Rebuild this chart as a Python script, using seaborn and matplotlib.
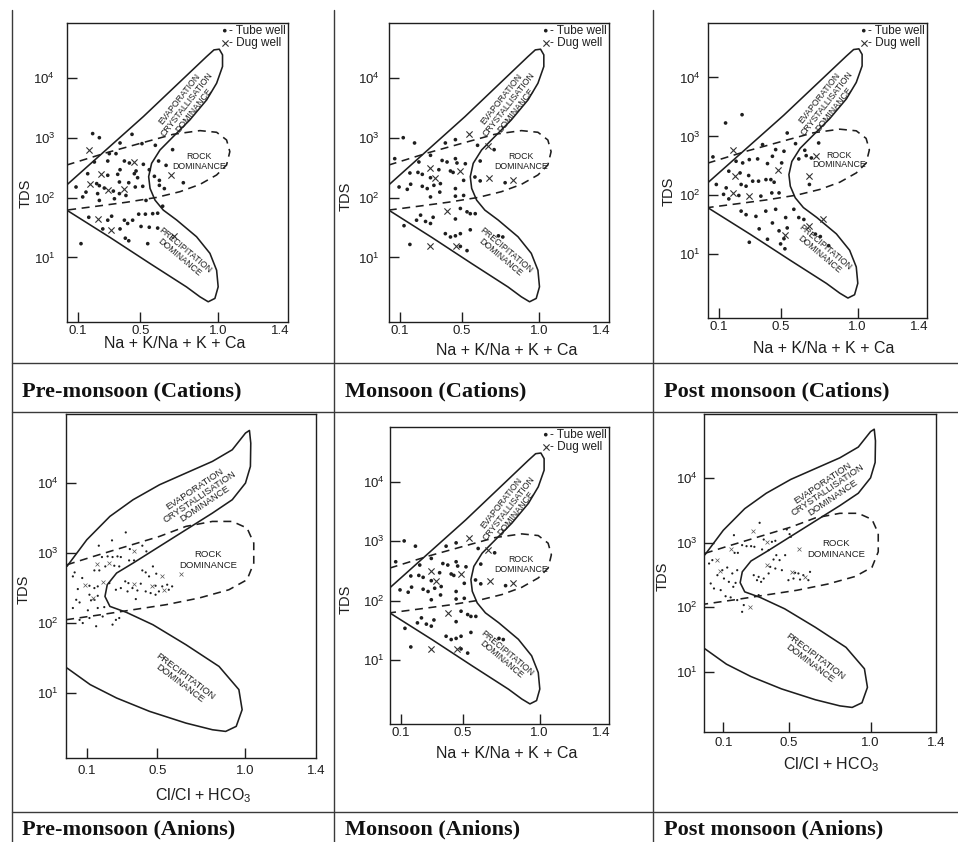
import matplotlib
matplotlib.use("Agg")
import matplotlib.pyplot as plt
from matplotlib.lines import Line2D
from matplotlib.ticker import NullLocator
import seaborn as sns

# Gibbs boundary curves (x ratio, TDS mg/L)
cat_solid_x = [0.027, 0.306, 0.563, 0.798, 0.884, 0.937, 0.980, 1.001, 0.991, 0.948,
               0.862, 0.734, 0.648, 0.595, 0.563, 0.554, 0.573, 0.627, 0.712, 0.819,
               0.927, 0.991, 1.029, 1.029, 1.008, 0.974, 0.927, 0.520, 0.027]
cat_solid_tds = [62, 21.6, 7.9, 3.2, 2.19, 1.81, 2.06, 3.22, 6.1, 11.7,
                 22.2, 42.3, 62, 91, 143, 225, 376, 629, 1052, 2004,
                 4335, 8240, 15700, 24600, 30600, 29800, 23100, 2280, 163]
cat_dash_x = [0.027, 0.284, 0.541, 0.712, 0.884, 0.991, 1.055, 1.076, 1.055, 0.991,
              0.884, 0.755, 0.605, 0.413, 0.220, 0.027]
cat_dash_tds = [352, 567, 869, 1151, 1327, 1245, 925, 590, 352, 240,
                167, 126, 101, 84, 72, 62]

an_solid_x = [-0.0125, 0.100, 0.231, 0.3625, 0.5125, 0.6625, 0.8125, 0.925, 1.000, 1.0225,
              1.030, 1.028, 1.000, 0.925, 0.8125, 0.6625, 0.5125, 0.3625, 0.269, 0.216,
              0.203, 0.231, 0.325, 0.475, 0.6625, 0.850, 0.9625, 0.981, 0.9475, 0.8875,
              0.8125, 0.6625, 0.456, 0.269, 0.119, -0.0125]
an_solid_tds = [646, 1549, 3342, 5781, 9462, 13900, 20400, 29900, 51800, 56500,
                37200, 17300, 10000, 5781, 3724, 2153, 1245, 719, 518, 353,
                240, 173, 142, 94.6, 49.0, 24.0, 11.2, 5.78, 3.34, 2.83,
                2.99, 3.72, 5.47, 8.49, 13.2, 22.8]
an_dash_x = [-0.0125, 0.1375, 0.325, 0.5125, 0.6625, 0.8125, 0.925, 1.009, 1.047, 1.047,
             1.009, 0.906, 0.7375, 0.55, 0.3625, 0.175, -0.0125]
an_dash_tds = [681, 895, 1245, 1730, 2404, 2831, 2831, 2275, 1390, 719,
               416, 299, 228, 183, 155, 131, 112]

# Pre-monsoon (cations)
pre_cat_tube_x = [0.194, 0.237, 0.447, 0.370, 0.511, 0.597, 0.708, 0.301, 0.344,
                  0.205, 0.291, 0.398, 0.430, 0.520, 0.618, 0.666,
                  0.370, 0.473, 0.558, 0.591, 0.623, 0.777,
                  0.162, 0.291, 0.355, 0.462, 0.483, 0.426, 0.366, 0.220,
                  0.087, 0.151, 0.237, 0.269, 0.327, 0.226, 0.130,
                  0.468, 0.516, 0.366, 0.408, 0.237, 0.334, 0.537,
                  0.623, 0.655, 0.644,
                  0.169, 0.291, 0.316, 0.398, 0.451, 0.490, 0.533, 0.580, 0.612,
                  0.259, 0.370, 0.419, 0.505, 0.558, 0.612,
                  0.404, 0.426, 0.548, 0.119]
pre_cat_tube_tds = [1183, 1010, 1150, 824, 803, 753, 637, 546, 546,
                    396, 411, 411, 381, 362, 411, 348,
                    294, 280, 294, 228, 195, 178,
                    252, 237, 246, 252, 216, 178, 183, 172,
                    151, 124, 159, 145, 129, 117, 103,
                    151, 155, 117, 109, 90, 96, 90,
                    161, 142, 72,
                    47, 42, 49, 42, 42, 53, 53, 54, 55,
                    30, 30, 37, 33, 32, 31,
                    21, 19, 17, 17]
pre_cat_dug_x = [0.169, 0.460, 0.698, 0.248, 0.177, 0.291, 0.398, 0.231, 0.312, 0.715]
pre_cat_dug_tds = [637, 391, 243, 252, 172, 136, 138, 44, 29, 23]

# Monsoon (cations) - the same diagram is shown again in the anion row
mon_cat_tube_x = [0.121, 0.194, 0.393, 0.458, 0.601, 0.708,
                  0.066, 0.222, 0.297, 0.372, 0.404, 0.458, 0.522, 0.468, 0.618,
                  0.164, 0.216, 0.244, 0.351, 0.297, 0.443, 0.426, 0.511, 0.584, 0.618, 0.779,
                  0.094, 0.147, 0.169, 0.244, 0.276, 0.357, 0.319, 0.458, 0.458, 0.511, 0.361, 0.297,
                  0.490, 0.533, 0.554, 0.586, 0.233, 0.207, 0.314, 0.458, 0.265, 0.297, 0.126,
                  0.393, 0.426, 0.458, 0.490, 0.554, 0.736, 0.764, 0.164, 0.490, 0.533]
mon_cat_tube_tds = [1010, 824, 824, 937, 753, 637,
                    450, 396, 512, 420, 396, 450, 370, 381, 411,
                    259, 265, 246, 294, 216, 265, 280, 195, 222, 191, 178,
                    151, 138, 168, 155, 142, 124, 161, 142, 106, 109, 172, 103,
                    66, 58, 54, 54, 51, 42, 47, 44, 40, 37, 34,
                    25, 22, 23, 25, 29, 23, 22, 16.5, 15.3, 13]
mon_cat_dug_x = [0.543, 0.668, 0.297, 0.329, 0.490, 0.678, 0.828, 0.404, 0.293, 0.464]
mon_cat_dug_tds = [1150, 724, 318, 216, 280, 216, 195, 61, 15.3, 15.3]

# Post monsoon (cations)
post_cat_tube_x = [0.250, 0.143, 0.061, 0.543, 0.383, 0.468, 0.522, 0.597, 0.657, 0.747, 0.618, 0.666, 0.700,
                   0.211, 0.254, 0.297, 0.351, 0.415, 0.447, 0.507,
                   0.164, 0.237, 0.293, 0.319, 0.357, 0.405, 0.437, 0.458, 0.687,
                   0.083, 0.147, 0.244, 0.276, 0.229, 0.164, 0.130, 0.372, 0.443, 0.490,
                   0.244, 0.276, 0.340, 0.404, 0.468, 0.533, 0.586, 0.618, 0.651,
                   0.361, 0.447, 0.490, 0.543, 0.726, 0.758, 0.812, 0.415, 0.500, 0.528, 0.297, 0.522]
post_cat_tube_tds = [2335, 1690, 449, 1143, 726, 598, 560, 753, 582, 774, 415, 472, 431,
                     379, 355, 404, 415, 346, 460, 355,
                     257, 240, 217, 174, 174, 185, 185, 167, 153,
                     153, 134, 153, 143, 99.5, 87, 104, 97, 110, 110,
                     54, 47, 44, 54, 58, 42, 58, 42, 39,
                     27, 34, 25, 28, 22, 20, 14, 18, 15, 12.4, 16, 18.4]
post_cat_dug_x = [0.190, 0.486, 0.730, 0.201, 0.683, 0.190, 0.293, 0.773, 0.683, 0.528]
post_cat_dug_tds = [582, 274, 460, 211, 211, 108, 97, 39, 30, 21]

# Pre-monsoon (anions)
pre_an_tube_x = [0.321, 0.243, 0.168, 0.415, 0.438, 0.344, 0.218, 0.246, 0.274, 0.293, 0.186, 0.340, 0.368,
                 0.256, 0.284, 0.205, 0.171, 0.143, 0.415, 0.434, 0.475, 0.494, 0.453, 0.031, 0.021, 0.074,
                 0.115, 0.049, 0.143, 0.162, 0.228, 0.318, 0.336, 0.406, 0.490, 0.528, 0.556, 0.584, 0.565,
                 0.509, 0.490, 0.462, 0.434, 0.387, 0.359, 0.331, 0.265, 0.293, 0.115, 0.143, 0.124, 0.162,
                 0.378, 0.040, 0.059, 0.021, 0.106, 0.162, 0.199, 0.059, 0.115, 0.190, 0.265, 0.284, 0.153, 0.246, 0.077]
pre_an_tube_tds = [1972, 1517, 1274, 1274, 1057, 1141, 896, 877, 896, 877, 877, 785, 785,
                   659, 644, 644, 565, 565, 565, 529, 644, 507, 464, 529, 464, 440,
                   341, 306, 316, 334, 372, 394, 372, 365, 341, 334, 353, 334, 299,
                   283, 254, 268, 283, 292, 316, 283, 299, 316, 254, 215, 211, 245,
                   220, 215, 197, 164, 152, 164, 169, 111, 118, 124, 111, 118, 90, 95, 100]
pre_an_dug_x = [0.368, 0.156, 0.224, 0.528, 0.087, 0.194, 0.368, 0.468, 0.537, 0.134, 0.636]
pre_an_dug_tds = [1057, 705, 720, 464, 352, 381, 365, 334, 292, 228, 507]

# Post monsoon (anions)
post_an_tube_x = [0.322, 0.165, 0.488, 0.505, 0.513, 0.347, 0.418, 0.397, 0.215, 0.242, 0.270, 0.290,
                  0.169, 0.189, 0.337, 0.377, 0.424, 0.478, 0.444, 0.407, 0.033, 0.013, 0.094, 0.124,
                  0.155, 0.185, 0.104, 0.134, 0.175, 0.161, 0.064, 0.023, 0.043, 0.084, 0.286, 0.316,
                  0.347, 0.387, 0.418, 0.458, 0.377, 0.306, 0.331, 0.539, 0.559, 0.589, 0.630, 0.620,
                  0.569, 0.529, 0.498, 0.316, 0.114, 0.145, 0.185, 0.225, 0.215]
post_an_tube_tds = [2018, 1300, 1592, 1349, 1227, 1114, 1064, 1026, 912, 879, 879, 859,
                    693, 693, 782, 763, 638, 638, 535, 547, 535, 474, 374, 411,
                    333, 374, 278, 247, 238, 207, 313, 233, 195, 184, 313, 295,
                    278, 421, 397, 374, 333, 262, 247, 341, 333, 313, 352, 262,
                    268, 278, 262, 154, 148, 142, 129, 108, 85]
post_an_dug_x = [0.282, 0.367, 0.145, 0.565, 0.064, 0.080, 0.367, 0.519, 0.600, 0.266]
post_an_dug_tds = [1517, 1026, 782, 809, 535, 366, 447, 352, 295, 101]

tds_ticks = [10, 100, 1000, 10000]
tds_labels = [r'$\mathregular{10^{1}}$', r'$\mathregular{10^{2}}$',
              r'$\mathregular{10^{3}}$', r'$\mathregular{10^{4}}$']

sns.set_theme(style='white')
plt.rcParams['font.family'] = ['Liberation Sans', 'DejaVu Sans']
plt.rcParams['mathtext.fontset'] = 'custom'
plt.rcParams['mathtext.rm'] = 'Liberation Sans'
plt.rcParams['mathtext.it'] = 'Liberation Sans:italic'
plt.rcParams['mathtext.bf'] = 'Liberation Sans:bold'

INK = '#1e1e1e'
W, H = 958, 842
fig = plt.figure(figsize=(W / 100, H / 100), dpi=100)


def rect(l, t, r, b):
    return [l / W, 1 - b / H, (r - l) / W, (b - t) / H]


def gibbs(ax, kind, tube_x, tube_y, dug_x, dug_y, ylab_pos, xlab_pos, ypad, xpad):
    ax.set_yscale('log')
    if kind == 'cation':
        sx, sy, dx, dy = cat_solid_x, cat_solid_tds, cat_dash_x, cat_dash_tds
        xlim, ylim = (0.029, 1.45), (0.83, 84000)
        xlabel = 'Na + K/Na + K + Ca'
        dot_s, x_s, x_lw, x_col = 7, 20, 0.8, '#333333'
    else:
        sx, sy, dx, dy = an_solid_x, an_solid_tds, an_dash_x, an_dash_tds
        xlim, ylim = (-0.018, 1.40), (1.18, 97000)
        xlabel = r'Cl/Cl + $\mathregular{HCO_3}$'
        dot_s, x_s, x_lw, x_col = 2.5, 8, 0.5, '#555555'

    sns.lineplot(x=sx, y=sy, sort=False, estimator=None, color=INK, lw=1.15, ax=ax)
    sns.lineplot(x=dx, y=dy, sort=False, estimator=None, color=INK, lw=1.15,
                 ls=(0, (5, 3.5)), ax=ax)
    sns.scatterplot(x=tube_x, y=tube_y, marker='o', s=dot_s, color=INK, edgecolor='none',
                    ax=ax, label='- Tube well' if kind == 'cation' else None, zorder=3)
    sns.scatterplot(x=dug_x, y=dug_y, marker='x', s=x_s, color=x_col, linewidth=x_lw,
                    ax=ax, label='- Dug well' if kind == 'cation' else None, zorder=3)

    ax.set_xlim(*xlim)
    ax.set_ylim(*ylim)
    ax.set_xticks([0.1, 0.5, 1.0])
    ax.set_xticklabels(['0.1', '0.5', '1.0'])
    ax.set_xticks([1.4], minor=True)
    ax.set_xticklabels(['1.4'], minor=True)
    ax.set_yticks(tds_ticks)
    ax.set_yticklabels(tds_labels)
    ax.yaxis.set_minor_locator(NullLocator())
    ax.tick_params(axis='x', which='major', direction='in', length=7, width=1.0,
                   color=INK, labelcolor=INK, labelsize=9.5, pad=xpad, bottom=True)
    ax.tick_params(axis='x', which='minor', length=0, labelcolor=INK, labelsize=9.5,
                   pad=xpad, bottom=True)
    ax.tick_params(axis='y', direction='in', length=7, width=1.0, color=INK,
                   labelcolor=INK, labelsize=9.5, pad=ypad, left=True)
    for sp in ax.spines.values():
        sp.set_color(INK)
        sp.set_linewidth(1.0)

    ax.set_ylabel('TDS', fontsize=10.5, color=INK)
    ax.yaxis.set_label_coords(*ylab_pos)
    ax.set_xlabel(xlabel, fontsize=11.5, color=INK)
    ax.xaxis.set_label_coords(*xlab_pos)
    ax.xaxis.label.set_va('center')

    # region names
    if kind == 'cation':
        fs = 6.3
        ax.text(0.80, 3600, 'EVAPORATION\nCRYSTALLISATION\nDOMINANCE', fontsize=fs,
                rotation=52, ha='center', va='center', rotation_mode='anchor',
                linespacing=1.0, color=INK)
        ax.text(0.88, 400, 'ROCK\nDOMINANCE', fontsize=fs, ha='center', va='center',
                linespacing=1.1, color=INK)
        ax.text(0.77, 11.5, 'PRECIPITATION\nDOMINANCE', fontsize=fs, rotation=-40,
                ha='center', va='center', rotation_mode='anchor', linespacing=1.0, color=INK)
        ax.legend(loc='upper right', frameon=False, fontsize=8.5, handlelength=0.6,
                  handletextpad=0.1, borderaxespad=0.05, borderpad=0.1, labelspacing=0.05,
                  labelcolor=INK)
    else:
        fs = 6.8
        ax.text(0.74, 6400, 'EVAPORATION\nCRYSTALLISATION\nDOMINANCE', fontsize=fs,
                rotation=34, ha='center', va='center', rotation_mode='anchor',
                linespacing=1.0, color=INK)
        ax.text(0.79, 800, 'ROCK\nDOMINANCE', fontsize=fs, ha='center', va='center',
                linespacing=1.2, color=INK)
        ax.text(0.645, 15.5, 'PRECIPITATION\nDOMINANCE', fontsize=fs, rotation=-37,
                ha='center', va='center', rotation_mode='anchor', linespacing=1.0, color=INK)


panels = [
    (rect(67, 23, 288, 322), 'cation', pre_cat_tube_x, pre_cat_tube_tds,
     pre_cat_dug_x, pre_cat_dug_tds, (-0.154, 0.43), (0.486, -0.072), 8.5, 2.5),
    (rect(389, 23, 609, 322), 'cation', mon_cat_tube_x, mon_cat_tube_tds,
     mon_cat_dug_x, mon_cat_dug_tds, (-0.164, 0.42), (0.536, -0.094), 6.5, 2.5),
    (rect(708, 23, 927, 318), 'cation', post_cat_tube_x, post_cat_tube_tds,
     post_cat_dug_x, post_cat_dug_tds, (-0.146, 0.43), (0.53, -0.105), 5.0, 2.5),
    (rect(66, 414, 316, 758), 'anion', pre_an_tube_x, pre_an_tube_tds,
     pre_an_dug_x, pre_an_dug_tds, (-0.14, 0.49), (0.55, -0.108), 5.0, 5.0),
    (rect(390, 427, 609, 724), 'cation', mon_cat_tube_x, mon_cat_tube_tds,
     mon_cat_dug_x, mon_cat_dug_tds, (-0.17, 0.42), (0.535, -0.10), 3.6, 2.5),
    (rect(704, 414, 936, 732), 'anion', post_an_tube_x, post_an_tube_tds,
     post_an_dug_x, post_an_dug_tds, (-0.15, 0.49), (0.55, -0.104), 4.3, 3.6),
]

for r, kind, tx, ty, dx, dy, ylp, xlp, ypad, xpad in panels:
    ax = fig.add_axes(r)
    gibbs(ax, kind, tx, ty, dx, dy, ylp, xlp, ypad, xpad)

# table rules
for xv in (11.7, 334, 653):
    fig.add_artist(Line2D([xv / W, xv / W], [1 - 10 / H, 0], transform=fig.transFigure,
                          color='#3a3a3a', lw=1.0))
for yv in (363, 412, 812):
    fig.add_artist(Line2D([11.7 / W, 1], [1 - yv / H, 1 - yv / H], transform=fig.transFigure,
                          color='#3a3a3a', lw=1.0))

captions = [
    ('Pre-monsoon (Cations)', 22, 391), ('Monsoon (Cations)', 345, 391),
    ('Post monsoon (Cations)', 664, 391), ('Pre-monsoon (Anions)', 22, 829),
    ('Monsoon (Anions)', 345, 829), ('Post monsoon (Anions)', 664, 829),
]
for txt, x, y in captions:
    fig.text(x / W, 1 - y / H, txt, family=['Liberation Serif', 'DejaVu Serif'],
             fontweight='bold', fontsize=16, ha='left', va='center', color='#111111')

fig.savefig('out.png', dpi=100)
